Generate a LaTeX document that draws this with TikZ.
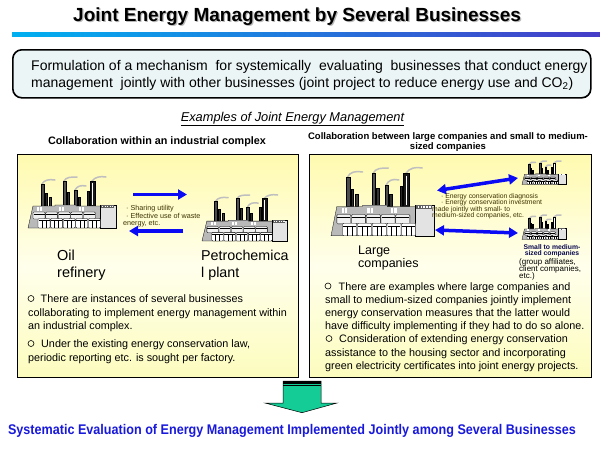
\documentclass[tikz,border=0pt]{standalone}
\usepackage{fontspec}
\usepackage{graphicx}
\setmainfont{Liberation Sans}
\usetikzlibrary{arrows.meta}
\newcommand\myfs[1]{\fontsize{#1}{#1}\selectfont}
\definecolor{lineL}{RGB}{0,176,240}
\definecolor{lineR}{RGB}{70,60,200}
\definecolor{boxfill}{RGB}{236,245,246}
\definecolor{ytop}{RGB}{255,250,175}
\definecolor{ymid}{RGB}{255,255,236}
\definecolor{ybot}{RGB}{252,252,190}
\definecolor{arrblue}{RGB}{10,10,245}
\definecolor{garrow}{RGB}{20,205,150}
\definecolor{btext}{RGB}{25,25,220}
\definecolor{smalltxt}{RGB}{60,50,0}
\definecolor{navy}{RGB}{10,10,80}
\tikzset{
  t/.style={inner sep=0pt, anchor=base west},
  tc/.style={inner sep=0pt, anchor=base},
  body/.style={font=\myfs{10.8}},
  smallt/.style={t, font=\myfs{7.2}, text=smalltxt},
  bluearr/.style={draw=arrblue, line width=3.5pt, -{Triangle[length=9pt,width=10pt]}},
  bluedbl/.style={draw=arrblue, line width=3.5pt, {Triangle[length=9pt,width=10pt]}-{Triangle[length=9pt,width=10pt]}},
  bul/.style={circle, draw, line width=0.6pt, minimum size=6pt, inner sep=0pt},
  ybox/.style={draw, line width=0.9pt, top color=ytop, bottom color=ybot, middle color=ymid,
    minimum height=223pt, anchor=north west, inner sep=0pt},
  smoke/.style={draw=gray!50, line width=1.5pt, line cap=round},
  chim/.style={draw=black, line width=0.3pt},
  fl/.style={draw=black, line width=0.3pt},
  factory/.pic={
    \draw[smoke] (14,7) .. controls (16,3) and (21,2) .. (27,3);
    \draw[smoke] (36,4) .. controls (38,0) and (43,0) .. (49,0);
    \draw[smoke] (47,13) .. controls (49,9) and (53,8) .. (58,9);
    \draw[smoke] (64,4) .. controls (67,0) and (72,-1) .. (78,0);
    \filldraw[chim, fill=gray!60!black] (13,7) rectangle (16,29);
    \filldraw[chim, fill=gray!35!black] (17,16) rectangle (19,29);
    \filldraw[chim, fill=gray!50!black] (21,20) rectangle (23,29);
    \filldraw[chim, fill=gray!65!black] (35,4) rectangle (38,29);
    \filldraw[chim, fill=gray!40!black] (39,15) rectangle (41,29);
    \filldraw[chim, fill=gray!60!black] (46,13) rectangle (49,29);
    \filldraw[chim, fill=gray!35!black] (50,20) rectangle (52,29);
    \filldraw[chim, fill=black!90] (62,4) rectangle (67,29);
    \filldraw[chim, fill=gray!30!black] (59,14) rectangle (61,29);
    \draw[white, line width=0.3pt] (64.5,6) -- (64.5,28);
    \filldraw[fl, fill=gray!55] (0,51) -- (5,29) -- (27,29) -- (27,28) -- (48,28) -- (48,29) -- (73,29) -- (73,51) -- cycle;
    \filldraw[fl, fill=gray!22] (72,28) rectangle (88,51);
    \fill[gray!75!black] (73,28) rectangle (86,31);
    \foreach \xx in {74,76.5,...,85} {\fill[white] (\xx,28.6) rectangle ++(1.2,1.6);}
    \foreach \xx in {9,12,31,34,51,54} {\fill[white] (\xx,30) rectangle ++(2,3.6);}
    \foreach \ii in {0,...,4} {\filldraw[fl, fill=gray!12, rounded corners=1pt] ({5+\ii*12.6},35) rectangle ++(12,7);
      \draw[line width=0.25pt] ({5.5+\ii*12.6},37) -- ++(11,0);}
    \foreach \ii in {0,...,4} {
      \filldraw[fl, fill=white, rounded corners=1pt] ({10+\ii*12.6},41.5) rectangle ++(12,9.5);
      \draw[line width=0.25pt] ({10.5+\ii*12.6},43.5) -- ++(11,0) ({14+\ii*12.6},43.5) -- ++(0,7.5) ({18+\ii*12.6},43.5) -- ++(0,7.5);
    }
  }
}
\begin{document}
\begin{tikzpicture}[x=1pt,y=-1pt]
\useasboundingbox (0,0) rectangle (600,450);
\fill[white] (0,0) rectangle (600,450);

% title
\node[t, font=\myfs{19}\bfseries, text=gray!55] (titsh) at (74.2,22.2) {Joint Energy Management by Several Businesses};
\node[t, font=\myfs{19}\bfseries] (title) at (73,21) {Joint Energy Management by Several Businesses};
\shade[left color=lineL, right color=lineR] (12,32) rectangle (600,36.5);

% top box
\node (topbox) [draw, line width=1.6pt, rounded corners=9pt, fill=boxfill, minimum width=578pt, minimum height=48pt, anchor=north west, inner sep=0pt] at (12,49) {};
\node[t, font=\myfs{14}] (f1) at (31,70.5) {Formulation of a mechanism\ \ for systemically\ \ evaluating\ \ businesses that conduct energy};
\node[t, font=\myfs{14}] (f2) at (31,87) {management\ \ jointly with other businesses (joint project to reduce energy use and CO\textsubscript{2})};

\node[tc, font=\myfs{12.8}\itshape] (ex) at (292.5,121.5) {\underline{Examples of Joint Energy Management}};
\node[tc, font=\myfs{10.8}\bfseries] (h1) at (157,144) {Collaboration within an industrial complex};
\node[tc, font=\myfs{9.5}\bfseries] (h2a) at (448,139) {Collaboration between large companies and small to medium-};
\node[tc, font=\myfs{9.5}\bfseries] (h2b) at (448,149) {sized companies};

% yellow boxes
\node (lbox) [ybox, minimum width=281pt] at (17,154) {};
\node (rbox) [ybox, minimum width=282pt] at (309,154) {};

% left scene
\pic (refinery) at (28,177) {factory};
\pic[xscale=0.97, yscale=0.9] (petro) at (202,195) {factory};
\coordinate (la1s) at (133,194.5); \coordinate (la1e) at (187,194.5);
\coordinate (la2s) at (183,231); \coordinate (la2e) at (129,231);
\draw[bluearr] (la1s) -- (la1e);
\draw[bluearr] (la2s) -- (la2e);
\node[smallt] (s1) at (126,210.3) {·\ Sharing utility};
\node[smallt] (s2) at (126,218.7) {·\ Effective use of waste};
\node[smallt] (s3) at (123,225.5) {energy, etc.};
\node[t, font=\myfs{14.5}] (oil1) at (57,260.7) {Oil};
\node[t, font=\myfs{14.5}] (oil2) at (57,277) {refinery};
\node[t, font=\myfs{14.3}] (pc1) at (201,260.7) {Petrochemica};
\node[t, font=\myfs{14.3}] (pc2) at (201,277) {l plant};

\node[bul] (lb1) at (31,298.5) {};
\node[t, body] (lt1) at (40.5,302.5) {There are instances of several businesses};
\node[t, body] (lt2) at (28,316) {collaborating to implement energy management within};
\node[t, body] (lt3) at (28,329.5) {an industrial complex.};
\node[bul] (lb2) at (31,343.5) {};
\node[t, body] (lt4) at (41,347.5) {Under the existing energy conservation law,};
\node[t, body] (lt5) at (28,361) {periodic reporting etc. is sought per factory.};

% right scene
\pic[xscale=1.17, yscale=1.33] (large) at (331,168) {factory};
\pic[xscale=0.5, yscale=0.46] (sme1) at (522,161) {factory};
\pic[xscale=0.5, yscale=0.48] (sme2) at (522,215) {factory};
\coordinate (ra1s) at (437,190.5); \coordinate (ra1e) at (518,178);
\coordinate (ra2s) at (435,230); \coordinate (ra2e) at (518,233);
\draw[bluedbl] (ra1s) -- (ra1e);
\draw[bluedbl] (ra2s) -- (ra2e);
\node[smallt, font=\myfs{6.8}] (r1) at (441,198.2) {·\ Energy conservation diagnosis};
\node[smallt, font=\myfs{6.8}] (r2) at (441,204.6) {·\ Energy conservation investment};
\node[smallt, font=\myfs{6.8}] (r3) at (432,211.2) {made jointly with small- to};
\node[smallt, font=\myfs{6.8}] (r4) at (432,217.6) {medium-sized companies, etc.};
\node[t, font=\myfs{12.5}] (lg1) at (358,254) {Large};
\node[t, font=\myfs{12.5}] (lg2) at (358,267.5) {companies};
\node[tc, font=\myfs{6.8}\bfseries, text=navy] (sm1) at (552,249.3) {Small to medium-};
\node[tc, font=\myfs{6.8}\bfseries, text=navy] (sm2) at (552,255.3) {sized companies};
\node[t, font=\myfs{8}] (ga1) at (519,264) {(group affiliates,};
\node[t, font=\myfs{8}] (ga2) at (519,271) {client companies,};
\node[t, font=\myfs{8}] (ga3) at (519,278) {etc.)};

\node[bul] (rb1) at (328,286) {};
\node[t, body] (rt1) at (338.5,290.5) {There are examples where large companies and};
\node[t, body] (rt2) at (325,303.6) {small to medium-sized companies jointly implement};
\node[t, body] (rt3) at (325,316.7) {energy conservation measures that the latter would};
\node[t, body] (rt4) at (325,329.8) {have difficulty implementing if they had to do so alone.};
\node[bul] (rb2) at (329,338.5) {};
\node[t, body] (rt5) at (339,342.9) {Consideration of extending energy conservation};
\node[t, body] (rt6) at (325,356) {assistance to the housing sector and incorporating};
\node[t, body] (rt7) at (325,369.3) {green electricity certificates into joint energy projects.};

% bottom arrow
\filldraw[fill=garrow, draw=black, line width=0.5pt] (283,381) -- (321,381) -- (321,403) -- (337,403) -- (302,412.7) -- (265,403) -- (283,403) -- cycle;
\fill[black] (283,381) rectangle (321,384);
\fill[black] (283,385.2) rectangle (321,386.4);
\node[tc, font=\myfs{14}\bfseries, text=btext] (bottom) at (292,434) {\scalebox{0.9}[1]{Systematic Evaluation of Energy Management Implemented Jointly among Several Businesses}};
\end{tikzpicture}
\end{document}
